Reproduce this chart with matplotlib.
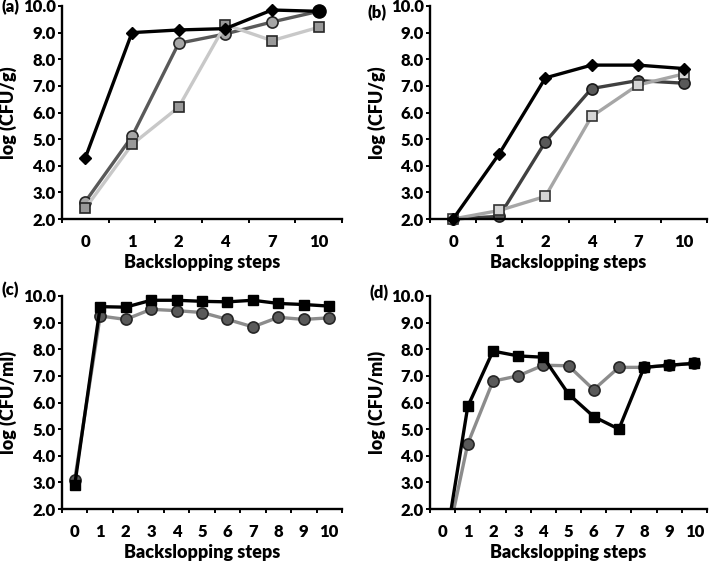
import numpy as np
import matplotlib
matplotlib.use('Agg')
import matplotlib.pyplot as plt
from matplotlib.ticker import FormatStrFormatter

plt.rcParams['font.family'] = ['Lato', 'DejaVu Sans']
plt.rcParams['font.weight'] = 'heavy'

# Panel (a) y (b): pasos 0,1,2,4,7,10
pasos_ab = ['0', '1', '2', '4', '7', '10']
a_rombo = [4.3, 9.0, 9.1, 9.15, 9.85, 9.8]
a_circulo = [2.65, 5.1, 8.6, 8.95, 9.4, 9.8]
a_cuadro = [2.4, 4.8, 6.2, 9.3, 8.7, 9.2]

b_rombo = [2.0, 4.45, 7.3, 7.78, 7.78, 7.65]
b_circulo = [2.0, 2.1, 4.9, 6.9, 7.2, 7.1]
b_cuadro = [2.0, 2.32, 2.85, 5.85, 7.03, 7.45]

# Panel (c) y (d): pasos 0..10
pasos_cd = [str(i) for i in range(11)]
c_cuadro = [2.9, 9.6, 9.58, 9.84, 9.84, 9.8, 9.78, 9.84, 9.72, 9.68, 9.62]
c_circulo = [3.1, 9.25, 9.12, 9.5, 9.45, 9.38, 9.12, 8.84, 9.2, 9.12, 9.18]

d_cuadro = [0.0, 5.85, 7.93, 7.75, 7.7, 6.32, 5.47, 5.0, 7.32, 7.4, 7.47]
d_circulo = [0.0, 4.45, 6.8, 7.0, 7.4, 7.38, 6.48, 7.32, 7.32, 7.4, 7.47]

W, H = 709, 562
fig = plt.figure(figsize=(W / 100, H / 100), dpi=100)


def caja(l, r, t, b):
    return [l / W, 1 - b / H, (r - l) / W, (b - t) / H]


def ejes(rect, etiquetas, ylabel):
    ax = fig.add_axes(rect)
    n = len(etiquetas)
    ax.set_xlim(-0.5, n - 0.5)
    ax.set_ylim(2.0, 10.0)
    ax.spines['top'].set_visible(False)
    ax.spines['right'].set_visible(False)
    ax.spines['left'].set_linewidth(1.7)
    ax.spines['bottom'].set_linewidth(1.7)
    ax.set_xticks(np.arange(n + 1) - 0.5)
    ax.set_xticklabels([])
    ax.set_xticks(np.arange(n), minor=True)
    ax.set_xticklabels(etiquetas, minor=True)
    ax.tick_params(axis='x', which='major', direction='out', length=3, width=1.4)
    ax.tick_params(axis='x', which='minor', length=0, pad=11, labelsize=12)
    ax.set_yticks(np.arange(2, 11, 1.0))
    ax.yaxis.set_major_formatter(FormatStrFormatter('%.1f'))
    ax.tick_params(axis='y', direction='out', length=3, width=1.4, pad=1.5, labelsize=12)
    ax.set_ylabel(ylabel, fontsize=13, fontweight='heavy')
    ax.yaxis.set_label_coords(-0.16, 0.5)
    ax.set_xlabel('Backslopping steps', fontsize=13, fontweight='heavy')
    ax.xaxis.set_label_coords(0.5, -0.165)
    return ax


# (a)
ax = ejes(caja(62, 342, 6, 219), pasos_ab, 'log (CFU/g)')
x = np.arange(len(pasos_ab))
ax.plot(x, a_circulo, '-o', color='#595959', lw=2.4, ms=8, mfc='#a6a6a6', mec='#262626', mew=1.2, clip_on=False)
ax.plot(x, a_cuadro, '-s', color='#c8c8c8', lw=2.4, ms=7.5, mfc='#999999', mec='#262626', mew=1.2, clip_on=False)
ax.plot(x, a_rombo, '-D', color='black', lw=2.4, ms=6, clip_on=False)
ax.plot(x[-1], a_circulo[-1], 'o', color='black', ms=9.5, clip_on=False)

# (b)
ax = ejes(caja(430, 707, 6, 219), pasos_ab, 'log (CFU/g)')
ax.plot(x, b_circulo, '-o', color='#404040', lw=2.4, ms=8, mfc='#595959', mec='#1a1a1a', mew=1.2, clip_on=False)
ax.plot(x, b_cuadro, '-s', color='#a6a6a6', lw=2.4, ms=7.5, mfc='#d4d4d4', mec='#333333', mew=1.2, clip_on=False)
ax.plot(x, b_rombo, '-D', color='black', lw=2.4, ms=6, clip_on=False)

# (c)
ax = ejes(caja(62, 342, 296, 509), pasos_cd, 'log (CFU/ml)')
x2 = np.arange(len(pasos_cd))
ax.plot(x2, c_circulo, '-o', color='#8c8c8c', lw=2.4, ms=8, mfc='#595959', mec='#262626', mew=1.2, clip_on=False)
ax.plot(x2, c_cuadro, '-s', color='black', lw=2.4, ms=7.5, clip_on=False)

# (d)
ax = ejes(caja(430, 707, 296, 509), pasos_cd, 'log (CFU/ml)')
ax.plot(x2, d_circulo, '-o', color='#8c8c8c', lw=2.4, ms=8, mfc='#595959', mec='#262626', mew=1.2)
ax.plot(x2, d_cuadro, '-s', color='black', lw=2.4, ms=7.5)

# letras de panel
for letra, px, py in [('(a)', 1, 7), ('(b)', 368, 13), ('(c)', 1, 290), ('(d)', 369, 293)]:
    fig.text(px / W, 1 - py / H, letra, ha='left', va='center', fontsize=12, fontweight='heavy')

fig.savefig('out.png', dpi=100)
